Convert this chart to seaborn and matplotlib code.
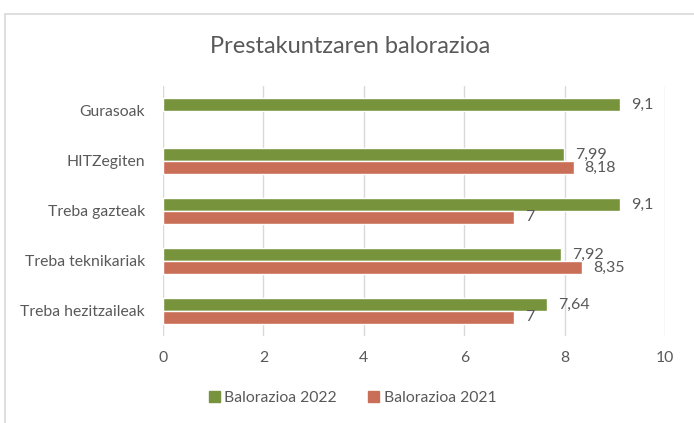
import numpy as np
import pandas as pd
import matplotlib
matplotlib.use("Agg")
import matplotlib.pyplot as plt
from matplotlib.patches import Rectangle
import seaborn as sns

# data
categories = ["Gurasoak", "HITZegiten", "Treba gazteak", "Treba teknikariak", "Treba hezitzaileak"]
val_2022 = [9.1, 7.99, 9.1, 7.92, 7.64]
val_2021 = [np.nan, 8.18, 7, 8.35, 7]
series = ["Balorazioa 2022", "Balorazioa 2021"]
colors = ["#77933C", "#C96F57"]
x_ticks = [0, 2, 4, 6, 8, 10]

df = pd.DataFrame({
    "Kategoria": categories * 2,
    "Balioa": val_2022 + val_2021,
    "Serie": [series[0]] * len(categories) + [series[1]] * len(categories),
}).dropna()

sns.set_style("white")
plt.rcParams["font.family"] = ["Lato", "DejaVu Sans"]
txt = "#595959"
grid = "#D9D9D9"

fig = plt.figure(figsize=(6.94, 4.23), dpi=100)
ax = fig.add_axes([0.2349, 0.2057, 0.7233, 0.591])

sns.barplot(data=df, y="Kategoria", x="Balioa", hue="Serie", order=categories,
            hue_order=series, palette=colors, orient="h", width=0.52,
            errorbar=None, saturation=1, ax=ax, legend=False)

for cont in ax.containers:
    labs = [("%g" % v).replace(".", ",") for v in cont.datavalues]
    ax.bar_label(cont, labels=labs, padding=8, color=txt, fontsize=11.5)

ax.set_xlim(0, 10)
ax.set_ylim(4.5, -0.5)
ax.set_xticks(x_ticks)
ax.xaxis.grid(True, color=grid, linewidth=1)
ax.set_axisbelow(True)
for s in ax.spines.values():
    s.set_visible(False)
ax.tick_params(axis="both", length=0, colors=txt, labelsize=11.3)
ax.tick_params(axis="x", pad=11)
ax.tick_params(axis="y", pad=13)
ax.set_xlabel("")
ax.set_ylabel("")

fig.text(0.504, 0.889, "Prestakuntzaren balorazioa", ha="center", va="center",
         fontsize=17, color=txt)

handles = [Rectangle((0, 0), 1, 1, color=c) for c in colors]
fig.legend(handles, series, loc="center", bbox_to_anchor=(0.508, 0.06), ncol=2,
           frameon=False, handlelength=0.7, handleheight=0.7, handletextpad=0.3,
           columnspacing=2.0, fontsize=11.3, labelcolor=txt)

# outer chart frame (cut off at right and bottom)
fig.patches.append(Rectangle((5 / 694, -0.2), 1.2, 1.2 - 14 / 423,
                             transform=fig.transFigure, fill=False,
                             edgecolor=grid, linewidth=1.2))

fig.savefig("out.png", dpi=100)
